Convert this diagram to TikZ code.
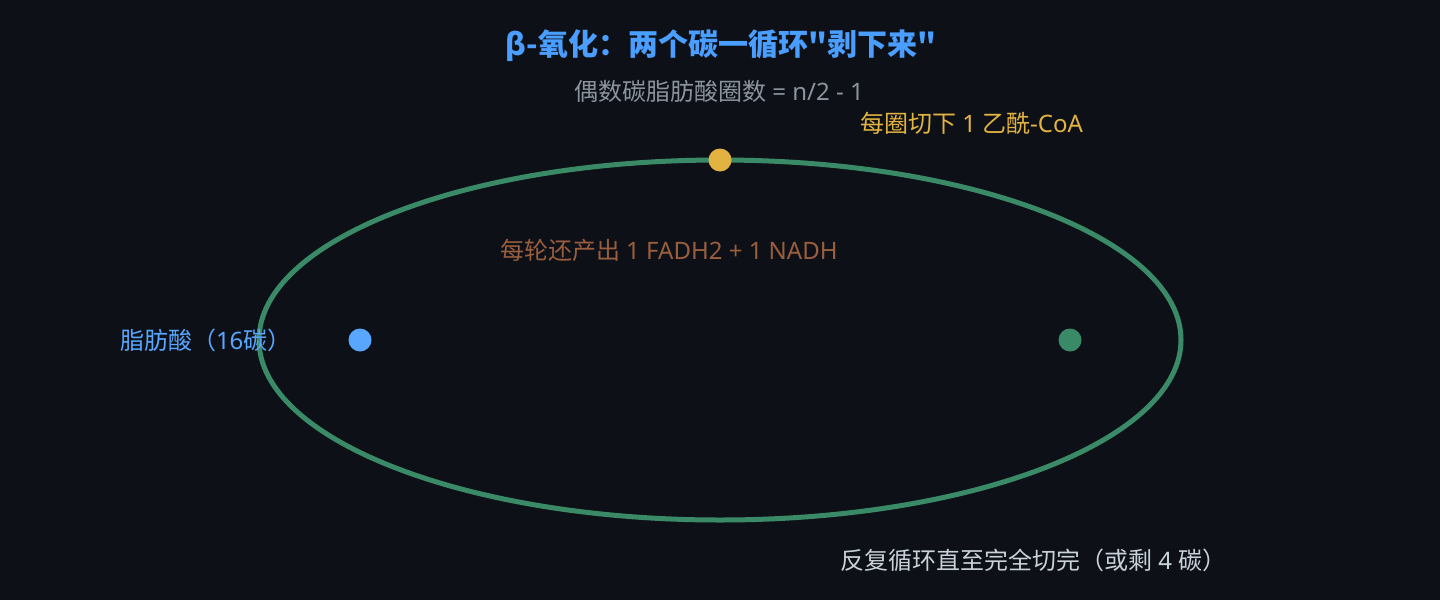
\documentclass[tikz,border=0pt]{standalone}
\usepackage{fontspec}
\setmainfont{Noto Sans CJK SC}[Ligatures=TeXOff]
\newfontfamily\lat{Noto Sans}[Ligatures=TeXOff]
\begin{document}
\begin{tikzpicture}[x=1pt,y=-1pt,
  lbl/.style={inner sep=0pt, outer sep=0pt},
  body/.style={lbl, font=\fontsize{24pt}{28pt}\selectfont},
  dot/.style={circle, inner sep=0pt, minimum size=23pt},
]
\definecolor{bg}{HTML}{0D1117}
\definecolor{ttl}{HTML}{4A9EFF}
\definecolor{sub}{HTML}{8B949E}
\definecolor{ylw}{HTML}{E3B341}
\definecolor{grn}{HTML}{3A8A68}
\definecolor{brn}{HTML}{9A5E3E}
\definecolor{blu}{HTML}{58A6FF}
\definecolor{lgt}{HTML}{C9D1D9}
\fill[bg] (0,0) rectangle (1440,600);
\useasboundingbox (0,0) rectangle (1440,600);

\draw[grn, line width=5pt] (720,340) ellipse [x radius=461, y radius=180];

\node[dot, fill=blu] (fa) at (360,340) {};
\node[dot, fill=ylw] (acoa) at (720,160) {};
\node[dot, fill=grn] (end) at (1070,340) {};

\node[lbl, anchor=base, text=ttl, font=\fontsize{30pt}{35pt}\selectfont\bfseries] (title) at (721,55) {β-氧化：两个碳一循环"剥下来"};
\node[body, anchor=base, text=sub] (subt) at (719,100) {偶数碳脂肪酸圈数{\lat\ = n/2 - 1}};
\node[body, anchor=base west, text=ylw] (cut) at (860,132) {每圈切下{\lat\ 1 }乙酰{\lat -CoA}};
\node[body, anchor=base west, text=brn] (yield) at (500,259) {每轮还产出{\lat\ 1 FADH2 + 1 NADH}};
\node[body, anchor=base west, text=blu] (fal) at (120,349) {脂肪酸（{\lat 16}碳）};
\node[body, anchor=base west, text=lgt] (rep) at (840,569) {反复循环直至完全切完（或剩{\lat\ 4 }碳）};
\end{tikzpicture}
\end{document}
